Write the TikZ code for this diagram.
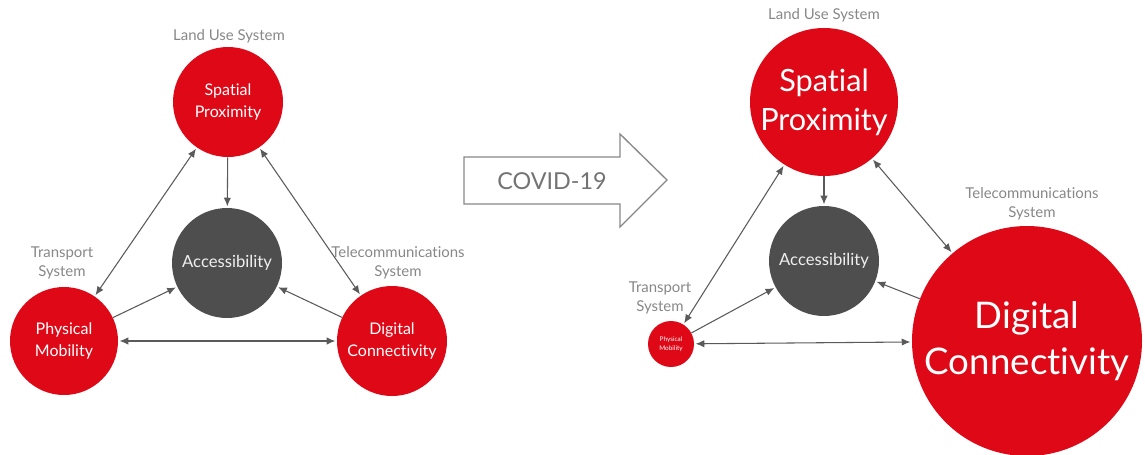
\documentclass[tikz,border=0pt]{standalone}
\usepackage{fontspec}
\setmainfont{Lato}[Ligatures={NoCommon,NoRare,NoContextual},Contextuals=NoAlternate]
\usepackage{tikz}
\usetikzlibrary{arrows.meta}

\definecolor{sysred}{RGB}{222,8,22}
\definecolor{accgray}{RGB}{78,78,78}
\definecolor{lblgray}{RGB}{135,135,135}
\definecolor{lnkgray}{RGB}{90,90,90}

\tikzset{
  sys/.style={circle,fill=sysred,text=white,inner sep=0pt,align=center},
  acc/.style={circle,fill=accgray,text=white!88!gray,inner sep=0pt,align=center},
  lbl/.style={text=lblgray,align=center,inner sep=0.75pt,font=\fontsize{11.2}{14.5}\selectfont},
  lnk/.style={draw=lnkgray,line width=0.8pt,-{Latex[length=6.5pt,width=5.5pt]},shorten >=1pt},
  dlnk/.style={lnk,{Latex[length=6.5pt,width=5.5pt]}-{Latex[length=6.5pt,width=5.5pt]},shorten <=1pt}
}

\begin{document}
\begin{tikzpicture}[x=0.75pt,y=0.75pt,yscale=-1,xscale=1]
\useasboundingbox (0,0) rectangle (1145,454);

% Before: circles
\node [sys,minimum size=82.5pt,font=\fontsize{12}{16}\selectfont] (spL) at (228,102) {Spat\kern0pt ial\\Proximity};
\node [acc,minimum size=82.5pt,font=\fontsize{12.5}{16}\selectfont] (acL) at (227,263) {Accessibility};
\node [sys,minimum size=81pt,font=\fontsize{12}{16}\selectfont] (pmL) at (64,341) {Physical\\Mobility};
\node [sys,minimum size=82.5pt,font=\fontsize{12}{16}\selectfont] (dcL) at (392,341) {Digital\\Connect\kern0pt ivity};

% Before: system labels
\node [lbl] (luL) at (229,36) {Land Use System};
\node [lbl] (tsL) at (62,263) {Transport\\System};
\node [lbl] (tcL) at (398,263) {Telecommunicat\kern0pt ions\\System};

% Before: links
\draw [dlnk] (spL) -- (pmL);
\draw [dlnk] (spL) -- (dcL);
\draw [dlnk] (pmL) -- (dcL);
\draw [lnk] (spL) -- (acL);
\draw [lnk] (pmL) -- (acL);
\draw [lnk] (dcL) -- (acL);

% Shape: COVID-19 arrow
\draw [draw=lblgray,line width=1pt,line join=miter] (464,157) -- (620,157) -- (620,134) -- (667,180) -- (620,227) -- (620,204) -- (464,204) -- cycle;
\node [text=lblgray!85!black,font=\fontsize{17.5}{20}\selectfont] (covid) at (552,181) {COVID-19};

% After: circles
\node [sys,minimum size=111pt,font=\fontsize{23}{29}\selectfont] (spR) at (824,102) {Spat\kern0pt ial\\Proximity};
\node [acc,minimum size=82.5pt,font=\fontsize{12.5}{16}\selectfont] (acR) at (824,261) {Accessibility};
\node [sys,minimum size=34.5pt,font=\fontsize{4.8}{6.5}\selectfont] (pmR) at (671,344) {Physical\\Mobility};
\node [sys,minimum size=172.5pt,font=\fontsize{27.5}{34}\selectfont] (dcR) at (1027,341) {Digital\\Connect\kern0pt ivity};

% After: system labels
\node [lbl] (luR) at (824,15) {Land Use System};
\node [lbl] (tsR) at (660,298) {Transport\\System};
\node [lbl] (tcR) at (1032,204) {Telecommunicat\kern0pt ions\\System};

% After: links
\draw [dlnk] (spR) -- (pmR);
\draw [dlnk] (spR) -- (dcR);
\draw [dlnk] (pmR) -- (dcR);
\draw [lnk] (spR) -- (acR);
\draw [lnk] (pmR) -- (acR);
\draw [lnk] (dcR) -- (acR);

\end{tikzpicture}
\end{document}
